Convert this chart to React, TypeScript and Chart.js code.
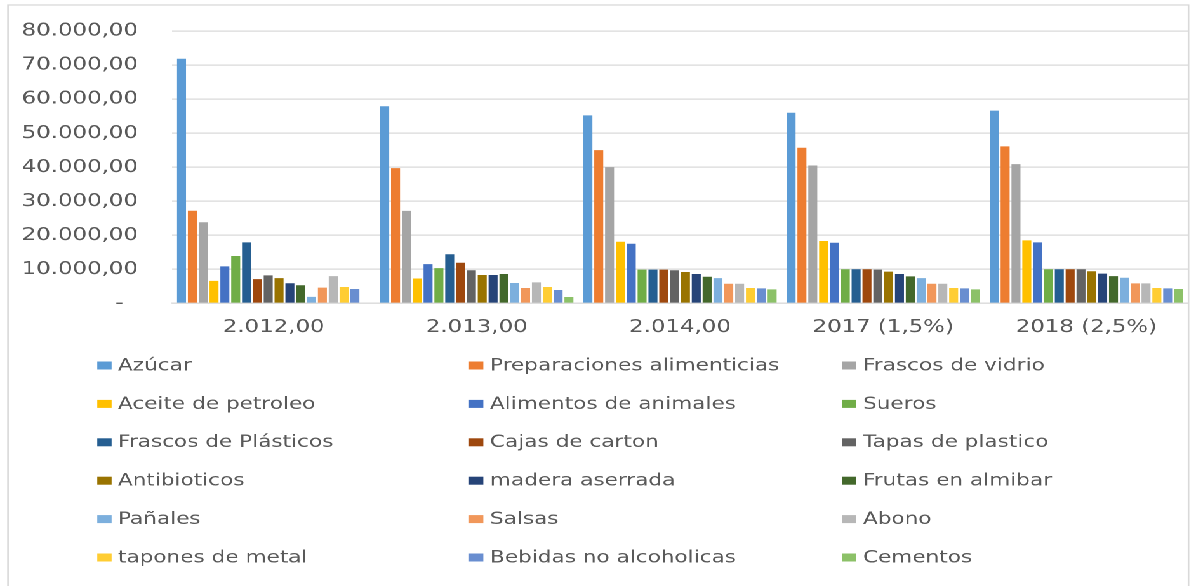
import React, { useEffect, useRef } from "react";
import { Chart, registerables } from "chart.js";

Chart.register(...registerables);

// Years on the category axis
const categories = ["2.012,00", "2.013,00", "2.014,00", "2017 (1,5%)", "2018 (2,5%)"];

// Product series (one value per year)
const azucar = [71850, 57900, 55200, 56000, 56600];
const preparaciones = [27200, 39700, 45000, 45700, 46100];
const frascosVidrio = [23800, 27150, 40000, 40500, 40900];
const aceitePetroleo = [6600, 7300, 18100, 18300, 18500];
const alimentosAnimales = [10850, 11500, 17500, 17800, 17900];
const sueros = [13900, 10350, 9900, 10000, 10000];
const frascosPlasticos = [17900, 14400, 9900, 10000, 10000];
const cajasCarton = [7100, 11900, 9900, 10000, 10000];
const tapasPlastico = [8200, 9700, 9700, 9900, 10000];
const antibioticos = [7400, 8300, 9200, 9300, 9400];
const maderaAserrada = [5900, 8300, 8600, 8600, 8700];
const frutasAlmibar = [5300, 8600, 7800, 7900, 8000];
const panales = [1900, 5950, 7400, 7400, 7500];
const salsas = [4600, 4500, 5750, 5750, 5850];
const abono = [8000, 6150, 5750, 5750, 5850];
const taponesMetal = [4800, 4800, 4500, 4500, 4500];
const bebidas = [4200, 3900, 4400, 4400, 4400];
const cementos = [0, 1850, 4100, 4100, 4200];

const seriesNames = [
  "Azúcar", "Preparaciones alimenticias", "Frascos de vidrio",
  "Aceite de petroleo", "Alimentos de animales", "Sueros",
  "Frascos de Plásticos", "Cajas de carton", "Tapas de plastico",
  "Antibioticos", "madera aserrada", "Frutas en almibar",
  "Pañales", "Salsas", "Abono",
  "tapones de metal", "Bebidas no alcoholicas", "Cementos",
];

const seriesValues = [
  azucar, preparaciones, frascosVidrio,
  aceitePetroleo, alimentosAnimales, sueros,
  frascosPlasticos, cajasCarton, tapasPlastico,
  antibioticos, maderaAserrada, frutasAlmibar,
  panales, salsas, abono,
  taponesMetal, bebidas, cementos,
];

const seriesColors = [
  "#5B9BD5", "#ED7D31", "#A5A5A5",
  "#FFC000", "#4472C4", "#70AD47",
  "#255E91", "#9E480E", "#636363",
  "#997300", "#264478", "#43682B",
  "#7CAFDD", "#F1975A", "#B7B7B7",
  "#FFCD33", "#698ED0", "#8CC168",
];

// Y-axis tick values
const yMin = 0;
const yMax = 80000;
const yStep = 10000;

const FONT = '"DejaVu Sans", sans-serif';
const TEXT = "#595959";
const GRID = "#D9D9D9";

// Drawing width before the horizontal stretch applied to the frame
const BASE_W = 942;
const H = 586;
const STRETCH = 1196 / BASE_W;

function formatTick(v: number): string {
  if (v === 0) return "-  ";
  const s = Math.round(v).toString().replace(/\B(?=(\d{3})+(?!\d))/g, ".");
  return s + ",00";
}

const frameAndLegend = {
  id: "frameAndLegend",
  afterDraw(chart: any) {
    const ctx = chart.ctx as CanvasRenderingContext2D;
    ctx.save();
    // outer frame
    ctx.strokeStyle = GRID;
    ctx.lineWidth = 1.3;
    ctx.strokeRect(6.3, 5, 936.1 - 6.3, 600);

    // legend in three columns
    const colBox = [76.6, 369.4, 663.2];
    const colText = [92.9, 385.9, 679.7];
    const rowY0 = 365.5;
    const rowStep = 38.4;
    ctx.font = `17px ${FONT}`;
    ctx.textBaseline = "middle";
    ctx.textAlign = "left";
    chart.data.datasets.forEach((ds: any, i: number) => {
      const col = i % 3;
      const row = Math.floor(i / 3);
      const y = rowY0 + row * rowStep;
      ctx.fillStyle = ds.backgroundColor;
      ctx.fillRect(colBox[col], y - 4, 11.3, 8);
      ctx.fillStyle = TEXT;
      ctx.fillText(ds.label, colText[col], y + 0.5);
    });
    ctx.restore();
  },
};

export default function App() {
  const canvasRef = useRef<HTMLCanvasElement | null>(null);

  useEffect(() => {
    document.body.style.margin = "0";
    document.body.style.overflow = "hidden";
    document.body.style.background = "#ffffff";
    const canvas = canvasRef.current;
    if (!canvas) return;

    const chart = new Chart(canvas, {
      type: "bar",
      data: {
        labels: categories,
        datasets: seriesNames.map((name, i) => ({
          label: name,
          data: seriesValues[i],
          backgroundColor: seriesColors[i],
          borderWidth: 0,
          barPercentage: 0.83,
          categoryPercentage: 0.96,
        })),
      },
      options: {
        animation: false,
        responsive: true,
        maintainAspectRatio: false,
        devicePixelRatio: 2,
        layout: { padding: { top: 31, left: 0, right: 6.3, bottom: 0 } },
        plugins: {
          legend: { display: false },
          tooltip: { enabled: false },
        },
        scales: {
          x: {
            grid: { display: false, drawTicks: false },
            border: { display: true, color: GRID, width: 1.3 },
            ticks: {
              color: TEXT,
              font: { family: FONT, size: 18 },
              padding: 13,
              maxRotation: 0,
              autoSkip: false,
            },
            afterFit(scale: any) {
              scale.height = H - 303.3;
            },
          },
          y: {
            min: yMin,
            max: yMax,
            grid: { color: GRID, lineWidth: 1.3, drawTicks: false },
            border: { display: false },
            ticks: {
              stepSize: yStep,
              color: TEXT,
              font: { family: FONT, size: 18 },
              padding: 26.8,
              callback: (v: any) => formatTick(Number(v)),
            },
            afterFit(scale: any) {
              scale.width = 135.5;
              scale.paddingTop = 0;
              scale.paddingBottom = 0;
            },
          },
        },
      },
      plugins: [frameAndLegend],
    });

    return () => chart.destroy();
  }, []);

  return (
    <div
      style={{
        position: "relative",
        width: BASE_W,
        height: H,
        background: "#ffffff",
        transform: `scaleX(${STRETCH})`,
        transformOrigin: "0 0",
      }}
    >
      <canvas ref={canvasRef} />
    </div>
  );
}
